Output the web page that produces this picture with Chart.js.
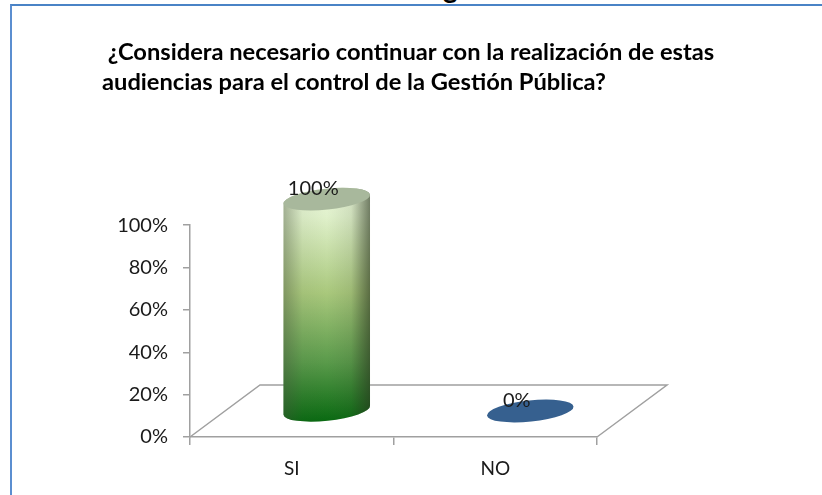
<!DOCTYPE html>
<html>
<head>
<meta charset="utf-8">
<style>
  html, body { margin: 0; padding: 0; background: #fff; overflow: hidden; }
  #wrap { position: relative; width: 822px; height: 495px; overflow: hidden; }
  #frame { position: absolute; left: 10px; top: 4px; width: 812px; height: 491px; box-sizing: border-box;
           border-left: 2px solid #5b8ed0; border-top: 2px solid #4a83c6; }
  #cut { position: absolute; left: 443px; top: -28px; font: bold 28px/30px Lato; color: #000; }
  canvas { position: absolute; left: 0; top: 0; }
</style>
<script src="https://cdn.jsdelivr.net/npm/chart.js"></script>
</head>
<body>
<div id="wrap">
  <div id="cut">g</div>
  <div id="frame"></div>
  <canvas id="chart" width="822" height="495"></canvas>
</div>
<script>
const categories = ["SI", "NO"];
const values = [100, 0];
const valueLabels = ["100%", "0%"];
const titleLines = [" ¿Considera necesario continuar con la realización de estas", "audiencias para el control de la Gestión Pública?"];

// depth of the 3D floor, the bars stand in the middle of it
const depthX = 70;
const depthY = 52;
const axisColor = "#a0a0a0";

function drawFloor(chart) {
    const ctx = chart.ctx;
    const a = chart.chartArea;
    ctx.save();
    ctx.strokeStyle = axisColor;
    ctx.lineWidth = 1.5;
    ctx.beginPath();
    ctx.moveTo(a.left, a.bottom);
    ctx.lineTo(a.left + depthX, a.bottom - depthY);
    ctx.lineTo(a.right + depthX, a.bottom - depthY);
    ctx.lineTo(a.right, a.bottom);
    ctx.stroke();
    ctx.restore();
}

function drawCylinder(ctx, cx, yTop, yBase, w) {
    const rx = w / 2;
    const ry = 10.5;
    const tilt = -6 * Math.PI / 180;
    if (yBase - yTop < 1) {
        ctx.fillStyle = "#36608f";
        ctx.beginPath();
        ctx.ellipse(cx, yBase, rx, ry, tilt, 0, Math.PI * 2);
        ctx.fill();
        return;
    }
    const body = new Path2D();
    body.ellipse(cx, yBase, rx, ry, tilt, Math.PI, 0, true);
    body.ellipse(cx, yTop, rx, ry, tilt, 0, Math.PI, true);
    body.closePath();

    const v = ctx.createLinearGradient(0, yTop - ry, 0, yBase + ry);
    v.addColorStop(0, "#eaf7dc");
    v.addColorStop(0.12, "#e0f1cb");
    v.addColorStop(0.45, "#a9c87c");
    v.addColorStop(0.75, "#599a4a");
    v.addColorStop(1, "#0a6a12");
    ctx.fillStyle = v;
    ctx.fill(body);

    const h = ctx.createLinearGradient(cx - rx, 0, cx + rx, 0);
    h.addColorStop(0, "rgba(70,80,60,0.42)");
    h.addColorStop(0.22, "rgba(70,80,60,0.06)");
    h.addColorStop(0.5, "rgba(70,80,60,0)");
    h.addColorStop(0.78, "rgba(40,50,30,0.1)");
    h.addColorStop(1, "rgba(40,50,30,0.62)");
    ctx.fillStyle = h;
    ctx.fill(body);

    ctx.fillStyle = "#a8b89c";
    ctx.beginPath();
    ctx.ellipse(cx, yTop, rx, ry, tilt, 0, Math.PI * 2);
    ctx.fill();
}

const cylinders = {
    id: "cylinders",
    beforeDatasetsDraw(chart) {
        drawFloor(chart);
        const ctx = chart.ctx;
        const meta = chart.getDatasetMeta(0);
        ctx.save();
        meta.data.forEach((bar) => {
            drawCylinder(ctx, bar.x + depthX / 2, bar.y - depthY / 2, bar.base - depthY / 2, bar.width);
        });
        ctx.restore();
    },
    afterDatasetsDraw(chart) {
        const ctx = chart.ctx;
        const meta = chart.getDatasetMeta(0);
        ctx.save();
        ctx.font = "20px Lato";
        ctx.fillStyle = "#1a1a1a";
        ctx.textAlign = "center";
        ctx.textBaseline = "alphabetic";
        meta.data.forEach((bar, i) => {
            ctx.fillText(valueLabels[i], bar.x + 21.5, bar.y - 30.5);
        });
        ctx.restore();
    }
};

new Chart(document.getElementById("chart"), {
    type: "bar",
    data: {
        labels: categories,
        datasets: [{
            data: values,
            backgroundColor: "transparent",
            barPercentage: 0.4275,
            categoryPercentage: 1
        }]
    },
    options: {
        responsive: false,
        animation: false,
        layout: { padding: { left: 102, right: 0, top: 0, bottom: 0 } },
        plugins: {
            legend: { display: false },
            tooltip: { enabled: false },
            title: {
                display: true,
                text: titleLines,
                align: "start",
                color: "#000",
                font: { family: "Lato", size: 23.7, weight: "bold", lineHeight: 1.28 },
                padding: { top: 37, bottom: 127.5 }
            }
        },
        scales: {
            x: {
                grid: { color: axisColor, lineWidth: 1.5, drawOnChartArea: false, tickLength: 8, offset: true },
                border: { color: axisColor, width: 1.5 },
                ticks: { color: "#1a1a1a", font: { family: "Lato", size: 19 }, padding: 12 },
                afterFit(scale) { scale.height = 58; }
            },
            y: {
                min: 0,
                max: 100,
                grid: { color: axisColor, lineWidth: 1.5, drawOnChartArea: false, tickLength: 7 },
                border: { color: axisColor, width: 1.5 },
                ticks: { stepSize: 20, color: "#1a1a1a", font: { family: "Lato", size: 20 }, padding: 15, callback: (v) => v + "%" },
                afterFit(scale) { scale.width = 88; }
            },
            // empty axis, only keeps the room to the right of the plot so the title is not squeezed
            spacer: {
                position: "right",
                grid: { display: false },
                border: { display: false },
                ticks: { display: false },
                afterFit(scale) { scale.width = 225; }
            }
        }
    },
    plugins: [cylinders]
});
</script>
</body>
</html>
